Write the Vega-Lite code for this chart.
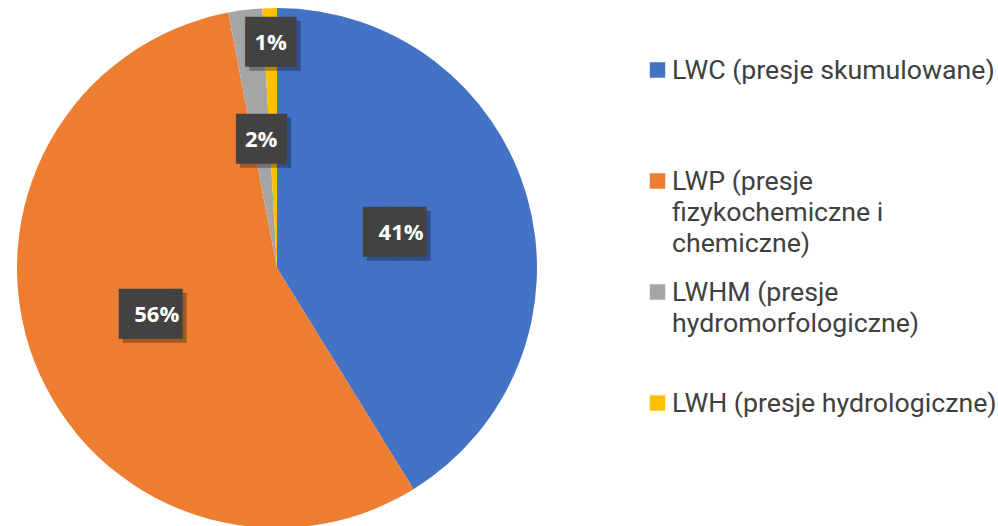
{
  "$schema": "https://vega.github.io/schema/vega-lite/v6.json",
  "background": "#ffffff",
  "padding": 0,
  "spacing": 20,
  "config": {"view": {"stroke": null}},
  "data": {"values": [
    {"cat": "LWC (presje skumulowane)", "idx": 1, "value": 0.412},
    {"cat": "LWP (presje|fizykochemiczne i|chemiczne)", "idx": 2, "value": 0.558},
    {"cat": "LWHM (presje|hydromorfologiczne)", "idx": 3, "value": 0.021},
    {"cat": "LWH (presje hydrologiczne)", "idx": 4, "value": 0.009}
  ]},
  "hconcat": [
    {
      "width": 554,
      "height": 536,
      "encoding": {
        "theta": {"field": "value", "type": "quantitative", "stack": true},
        "order": {"field": "idx", "type": "quantitative"}
      },
      "layer": [
        {
          "mark": {"type": "arc", "outerRadius": 260},
          "encoding": {
            "color": {"field": "cat", "type": "nominal", "legend": null,
              "scale": {"domain": ["LWC (presje skumulowane)", "LWP (presje|fizykochemiczne i|chemiczne)", "LWHM (presje|hydromorfologiczne)", "LWH (presje hydrologiczne)"],
                        "range": ["#4472C4", "#ED7D31", "#A5A5A5", "#FFC000"]}}
          }
        },
        {
          "mark": {"type": "text", "radius": 129, "font": "DejaVu Sans Mono", "fontSize": 42, "color": "#000000", "opacity": 0.3, "dx": 4, "dy": 4, "align": "center", "baseline": "middle"},
          "encoding": {"text": {"condition": [{"test": "datum.idx == 4", "value": ""}, {"test": "datum.value >= 0.1", "value": "██▌"}], "value": "██"}}
        },
        {
          "mark": {"type": "text", "radius": 129, "font": "DejaVu Sans Mono", "fontSize": 42, "color": "#424242", "align": "center", "baseline": "middle"},
          "encoding": {"text": {"condition": [{"test": "datum.idx == 4", "value": ""}, {"test": "datum.value >= 0.1", "value": "██▌"}], "value": "██"}}
        },
        {
          "mark": {"type": "text", "radius": 129, "font": "Open Sans", "fontWeight": "bold", "fontSize": 22, "color": "#ffffff", "align": "center", "baseline": "middle"},
          "encoding": {"text": {"condition": {"test": "datum.idx == 4", "value": ""}, "field": "value", "type": "quantitative", "format": ".0%"}}
        },
        {
          "mark": {"type": "text", "radius": 225, "font": "DejaVu Sans Mono", "fontSize": 42, "color": "#000000", "opacity": 0.3, "dx": 4, "dy": 4, "align": "center", "baseline": "middle"},
          "encoding": {"text": {"condition": {"test": "datum.idx != 4", "value": ""}, "value": "██"}}
        },
        {
          "mark": {"type": "text", "radius": 225, "font": "DejaVu Sans Mono", "fontSize": 42, "color": "#424242", "align": "center", "baseline": "middle"},
          "encoding": {"text": {"condition": {"test": "datum.idx != 4", "value": ""}, "value": "██"}}
        },
        {
          "mark": {"type": "text", "radius": 225, "font": "Open Sans", "fontWeight": "bold", "fontSize": 22, "color": "#ffffff", "align": "center", "baseline": "middle"},
          "encoding": {"text": {"condition": {"test": "datum.idx != 4", "value": ""}, "field": "value", "type": "quantitative", "format": ".0%"}}
        }
      ]
    },
    {
      "width": 167,
      "height": 473,
      "encoding": {
        "y": {"field": "cat", "type": "nominal", "axis": null,
              "scale": {"type": "point", "padding": 0.6306,
                        "domain": ["LWC (presje skumulowane)", "LWP (presje|fizykochemiczne i|chemiczne)", "LWHM (presje|hydromorfologiczne)", "LWH (presje hydrologiczne)"]}}
      },
      "layer": [
        {
          "mark": {"type": "point", "shape": "square", "filled": true, "size": 240, "opacity": 1},
          "encoding": {
            "color": {"field": "cat", "type": "nominal", "legend": null,
              "scale": {"domain": ["LWC (presje skumulowane)", "LWP (presje|fizykochemiczne i|chemiczne)", "LWHM (presje|hydromorfologiczne)", "LWH (presje hydrologiczne)"],
                        "range": ["#4472C4", "#ED7D31", "#A5A5A5", "#FFC000"]}}
          }
        },
        {
          "mark": {"type": "text", "align": "left", "baseline": "alphabetic", "dx": 14.5, "dy": 9, "font": "Roboto", "fontSize": 26.7, "color": "#404040", "lineBreak": "|", "lineHeight": 31},
          "encoding": {"text": {"field": "cat", "type": "nominal"}}
        }
      ]
    }
  ]
}
